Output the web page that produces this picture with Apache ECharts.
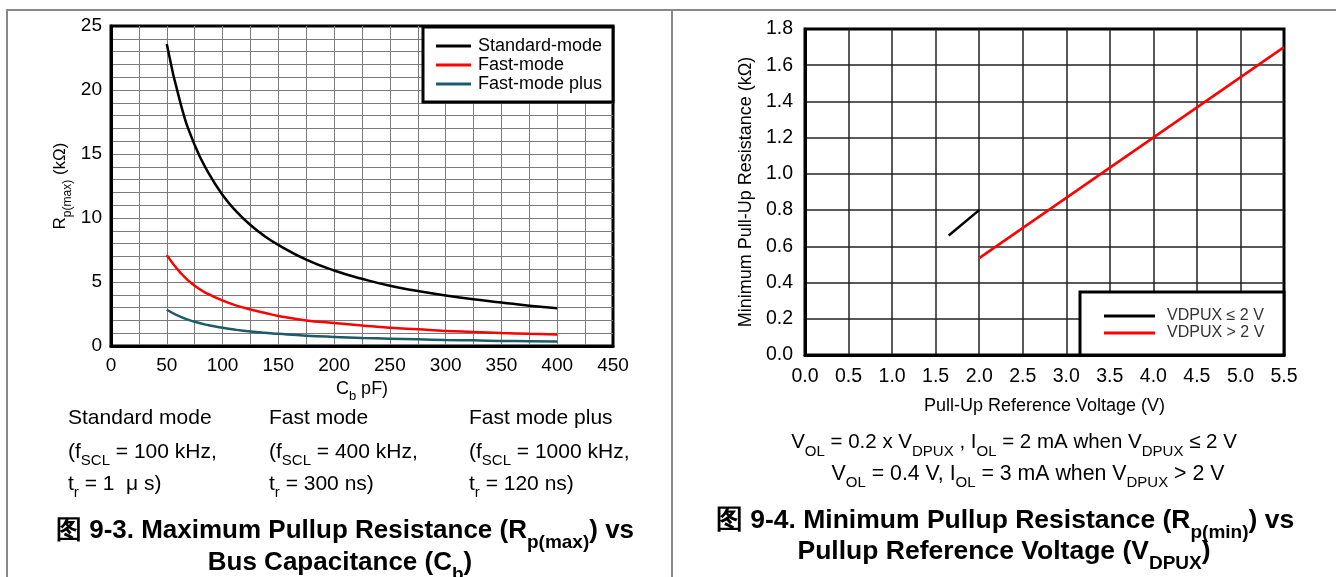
<!DOCTYPE html>
<html><head><meta charset="utf-8">
<script src="https://cdn.jsdelivr.net/npm/echarts@6/dist/echarts.min.js"></script>
<style>html,body{margin:0;padding:0;background:#fff}#c{width:1336px;height:577px}</style>
</head><body><div id="c"></div>
<script>
// ---- Left chart data (Rp(max) vs Cb) ----
const capPF = [50, 62.5, 75, 87.5, 100, 112.5, 125, 137.5, 150, 175, 200, 225, 250, 275, 300, 325, 350, 375, 400];
const standardMode = [23.6, 18.9, 15.7, 13.5, 11.8, 10.5, 9.45, 8.6, 7.9, 6.75, 5.9, 5.25, 4.7, 4.3, 3.95, 3.65, 3.4, 3.15, 2.95];
const fastMode = [7.1, 5.7, 4.7, 4.05, 3.55, 3.15, 2.85, 2.6, 2.35, 2.0, 1.8, 1.6, 1.42, 1.3, 1.18, 1.1, 1.02, 0.95, 0.89];
const fastModePlus = [2.83, 2.27, 1.89, 1.62, 1.42, 1.26, 1.13, 1.03, 0.95, 0.81, 0.71, 0.63, 0.57, 0.52, 0.47, 0.44, 0.4, 0.38, 0.35];
const leftNames = ['Standard-mode', 'Fast-mode', 'Fast-mode plus'];

// ---- Right chart data (Rp(min) vs VDPUX) ----
const vLowX = [1.65, 2.0];
const vLowY = [0.66, 0.8];
const vHighX = [2.0, 5.5];
const vHighY = [0.535, 1.7];
const rightNames = ['VDPUX ≤ 2 V', 'VDPUX > 2 V'];

const FONT = '"Liberation Sans", Arial, sans-serif';
const pair = (xs, ys) => xs.map((x, i) => [x, ys[i]]);

const chart = echarts.init(document.getElementById('c'), null, {renderer: 'canvas'});

const L = {left: 111, top: 26, width: 502, height: 320};
const R = {left: 805, top: 29, width: 479, height: 326};

function txt(x, y, text, size, opts) {
  opts = opts || {};
  const w = opts.bold ? 'bold' : 'normal';
  return {
    type: 'text', x: x, y: y, z: 100,
    style: {
      text: text,
      font: w + ' ' + size + 'px ' + FONT,
      fill: '#000',
      textAlign: opts.align || 'left',
      textVerticalAlign: 'middle',
      rich: {
        n: {fontFamily: FONT, fontSize: size, fontWeight: w, lineHeight: size + 4, verticalAlign: 'bottom'},
        s: {fontFamily: FONT, fontSize: Math.round(size * 0.72), fontWeight: w, lineHeight: size + 4, verticalAlign: 'bottom', padding: [0, 0, -Math.round(size * 0.3), 0]}
      }
    }
  };
}

const option = {
  animation: false,
  backgroundColor: '#fff',
  textStyle: {fontFamily: FONT},
  grid: [
    Object.assign({show: true, borderColor: '#000', borderWidth: 3, backgroundColor: 'transparent'}, L),
    Object.assign({show: true, borderColor: '#000', borderWidth: 3, backgroundColor: 'transparent'}, R)
  ],
  xAxis: [
    {
      gridIndex: 0, type: 'value', min: 0, max: 450, interval: 25,
      axisLine: {show: true, lineStyle: {color: '#000', width: 3}},
      axisTick: {show: false},
      axisLabel: {color: '#000', fontSize: 19, margin: 10, fontFamily: FONT, formatter: v => (v % 50 === 0 ? String(v) : '')},
      splitLine: {show: true, showMinLine: false, showMaxLine: false, lineStyle: {color: '#7a7a7a', width: 1}},
      name: '{n|C}{s|b}{n| pF)}', nameLocation: 'middle', nameGap: 29,
      nameTextStyle: {color: '#000', rich: {
        n: {fontFamily: FONT, fontSize: 18, color: '#000', lineHeight: 20, verticalAlign: 'bottom'},
        s: {fontFamily: FONT, fontSize: 13, color: '#000', lineHeight: 20, verticalAlign: 'bottom', padding: [0, 0, -5, 0]}
      }}
    },
    {
      gridIndex: 1, type: 'value', min: 0, max: 5.5, interval: 0.5,
      axisLine: {show: true, lineStyle: {color: '#000', width: 3}},
      axisTick: {show: false},
      axisLabel: {color: '#000', fontSize: 19.5, margin: 12, fontFamily: FONT, formatter: v => v.toFixed(1)},
      splitLine: {show: true, showMinLine: false, showMaxLine: false, lineStyle: {color: '#222', width: 1.5}},
      name: 'Pull-Up Reference Voltage (V)', nameLocation: 'middle', nameGap: 42,
      nameTextStyle: {color: '#000', fontSize: 18, fontFamily: FONT}
    }
  ],
  yAxis: [
    {
      gridIndex: 0, type: 'value', min: 0, max: 25, interval: 1,
      axisLine: {show: true, lineStyle: {color: '#000', width: 3}},
      axisTick: {show: false},
      axisLabel: {color: '#000', fontSize: 19, margin: 9, fontFamily: FONT, formatter: v => (v % 5 === 0 ? String(v) : '')},
      splitLine: {show: true, showMinLine: false, showMaxLine: false, lineStyle: {color: '#7a7a7a', width: 1}},
      name: '{n|R}{s|p(max)}{n| (kΩ)}', nameLocation: 'middle', nameGap: 42,
      nameTextStyle: {color: '#000', rich: {
        n: {fontFamily: FONT, fontSize: 17, color: '#000', lineHeight: 20, verticalAlign: 'bottom'},
        s: {fontFamily: FONT, fontSize: 12, color: '#000', lineHeight: 20, verticalAlign: 'bottom', padding: [0, 0, -5, 0]}
      }}
    },
    {
      gridIndex: 1, type: 'value', min: 0, max: 1.8, interval: 0.2,
      axisLine: {show: true, lineStyle: {color: '#000', width: 3}},
      axisTick: {show: false},
      axisLabel: {color: '#000', fontSize: 19.5, margin: 12, fontFamily: FONT, formatter: v => v.toFixed(1)},
      splitLine: {show: true, showMinLine: false, showMaxLine: false, lineStyle: {color: '#222', width: 1.5}},
      name: 'Minimum Pull-Up Resistance (kΩ)', nameLocation: 'middle', nameGap: 50,
      nameTextStyle: {color: '#000', fontSize: 18, fontFamily: FONT}
    }
  ],
  legend: [
    {
      data: leftNames, orient: 'vertical', left: 431, top: 32,
      itemWidth: 35, itemHeight: 3, itemGap: 1, icon: 'rect',
      textStyle: {fontSize: 18, color: '#000', fontFamily: FONT, padding: [0, 0, 0, 2]},
      selectedMode: false, z: 20
    },
    {
      data: rightNames, orient: 'vertical', left: 1099, top: 303,
      itemWidth: 51, itemHeight: 3, itemGap: 1, icon: 'rect',
      textStyle: {fontSize: 16, color: '#333', fontFamily: FONT, padding: [0, 0, 0, 7]},
      selectedMode: false, z: 20
    }
  ],
  series: [
    {name: leftNames[0], type: 'line', xAxisIndex: 0, yAxisIndex: 0, smooth: 0.5, showSymbol: false,
      lineStyle: {color: '#000', width: 2.5}, itemStyle: {color: '#000'}, data: pair(capPF, standardMode)},
    {name: leftNames[1], type: 'line', xAxisIndex: 0, yAxisIndex: 0, smooth: 0.5, showSymbol: false,
      lineStyle: {color: '#ff0000', width: 2.5}, itemStyle: {color: '#ff0000'}, data: pair(capPF, fastMode)},
    {name: leftNames[2], type: 'line', xAxisIndex: 0, yAxisIndex: 0, smooth: 0.5, showSymbol: false,
      lineStyle: {color: '#1d5a6a', width: 2.5}, itemStyle: {color: '#1d5a6a'}, data: pair(capPF, fastModePlus)},
    {name: rightNames[0], type: 'line', xAxisIndex: 1, yAxisIndex: 1, showSymbol: false,
      lineStyle: {color: '#000', width: 2.5}, itemStyle: {color: '#000'}, data: pair(vLowX, vLowY)},
    {name: rightNames[1], type: 'line', xAxisIndex: 1, yAxisIndex: 1, showSymbol: false,
      lineStyle: {color: '#ff0000', width: 2.5}, itemStyle: {color: '#ff0000'}, data: pair(vHighX, vHighY)}
  ],
  graphic: [
    // frame
    {type: 'polyline', z: 1, shape: {points: [[7, 577], [7, 10], [1336, 10]]}, style: {stroke: '#888', lineWidth: 2, fill: null}},
    {type: 'line', z: 1, shape: {x1: 672, y1: 10, x2: 672, y2: 577}, style: {stroke: '#888', lineWidth: 2}},
    // legend boxes
    {type: 'rect', z: 10, shape: {x: 423, y: 27, width: 190, height: 75}, style: {fill: '#fff', stroke: '#000', lineWidth: 3}},
    {type: 'rect', z: 10, shape: {x: 1080, y: 292, width: 204, height: 63}, style: {fill: '#fff', stroke: '#000', lineWidth: 3}},
    // left notes
    txt(68, 418, 'Standard mode', 21),
    txt(68, 450, '{n|(f}{s|SCL}{n| = 100 kHz,}', 21),
    txt(68, 482, '{n|t}{s|r}{n| = 1  μ s)}', 21),
    txt(269, 418, 'Fast mode', 21),
    txt(269, 450, '{n|(f}{s|SCL}{n| = 400 kHz,}', 21),
    txt(269, 482, '{n|t}{s|r}{n| = 300 ns)}', 21),
    txt(469, 418, 'Fast mode plus', 21),
    txt(469, 450, '{n|(f}{s|SCL}{n| = 1000 kHz,}', 21),
    txt(469, 482, '{n|t}{s|r}{n| = 120 ns)}', 21),
    // left caption
    txt(345, 529, '{n|图 9-3. Maximum Pullup Resistance (R}{s|p(max)}{n|) vs}', 26, {bold: true, align: 'center'}),
    txt(340, 561, '{n|Bus Capacitance (C}{s|b}{n|)}', 26, {bold: true, align: 'center'}),
    // right notes
    txt(1014, 441, '{n|V}{s|OL}{n| = 0.2 x V}{s|DPUX}{n| , I}{s|OL}{n| = 2 mA when V}{s|DPUX}{n| ≤ 2 V}', 20.5, {align: 'center'}),
    txt(1028, 472, '{n|V}{s|OL}{n| = 0.4 V, I}{s|OL}{n| = 3 mA when V}{s|DPUX}{n| > 2 V}', 21.3, {align: 'center'}),
    // right caption
    txt(1005, 519, '{n|图 9-4. Minimum Pullup Resistance (R}{s|p(min)}{n|) vs}', 26.5, {bold: true, align: 'center'}),
    txt(1004, 550, '{n|Pullup Reference Voltage (V}{s|DPUX}{n|)}', 26.5, {bold: true, align: 'center'})
  ]
};
chart.setOption(option);
</script>
</body></html>
